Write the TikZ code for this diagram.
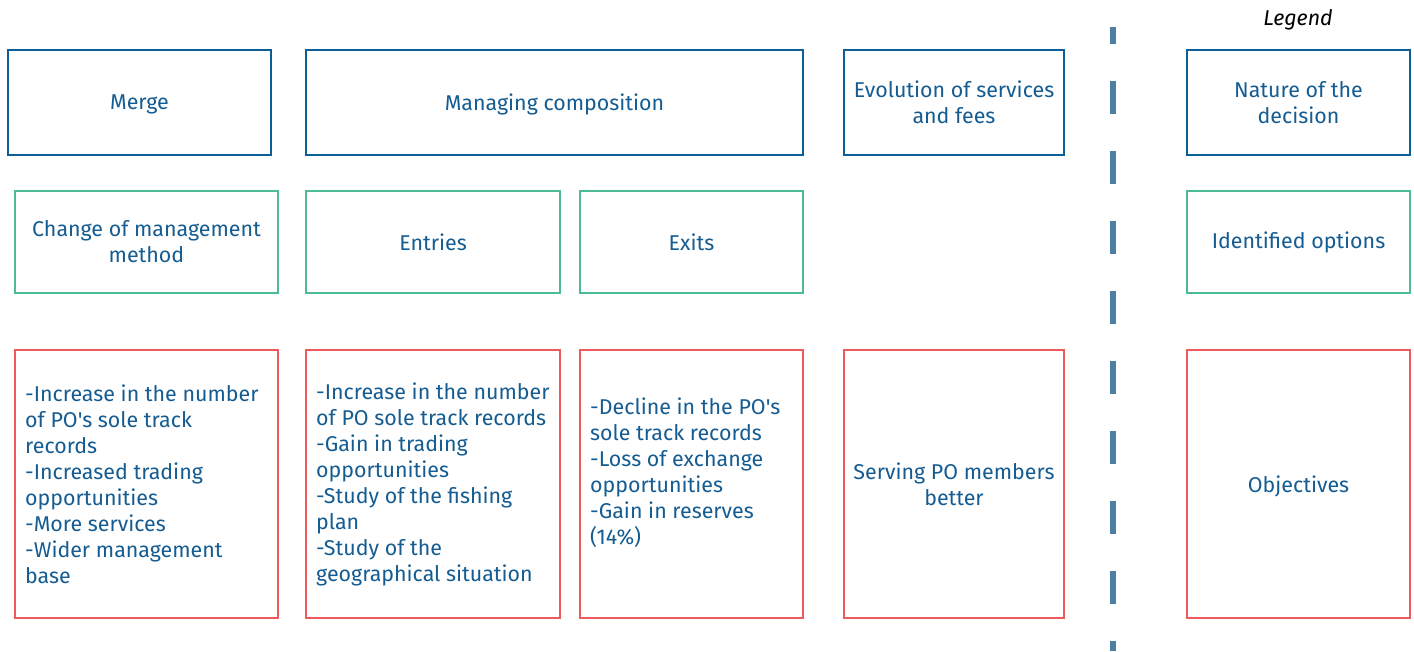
\documentclass[tikz,border=0pt]{standalone}
\usepackage{fontspec}
\setmainfont{Fira Sans}[Ligatures=TeXOff]
\definecolor{txtblue}{HTML}{145C91}
\definecolor{bordblue}{HTML}{0B5E96}
\definecolor{bordgreen}{HTML}{4CBB97}
\definecolor{bordred}{HTML}{F05A5A}
\definecolor{dashblue}{HTML}{4D7FA3}
\newcommand{\lowertxt}[1]{\raisebox{-2pt}[\height][\depth]{#1}}
\begin{document}
\begin{tikzpicture}[x=1pt,y=-1pt,
  box/.style={draw, line width=2pt, inner sep=0pt, fill=white,
    font=\fontsize{21.4}{26}\selectfont, text=txtblue, align=center},
  bluebox/.style={box, draw=bordblue, minimum height=105},
  greenbox/.style={box, draw=bordgreen, minimum height=102},
  redbox/.style={box, draw=bordred, minimum height=268},
  bodytext/.style={inner sep=0pt, anchor=west, align=left, text=txtblue,
    font=\fontsize{21.4}{26}\selectfont},
  dashline/.style={draw=dashblue, line width=6pt, dash pattern=on 33pt off 37pt, dash phase=16pt}
]
\useasboundingbox (0,0) rectangle (1414,651);

% row 1
\node[bluebox, minimum width=263] (merge) at (139.5,102.5) {\lowertxt{Merge}};
\node[bluebox, minimum width=497] (manage) at (554.5,102.5) {\lowertxt{Managing composition}};
\node[bluebox, minimum width=220] (evol) at (954,102.5) {Evolution of services\\and fees};
\node[bluebox, minimum width=223] (nature) at (1298.5,102.5) {Nature of the\\decision};

% row 2
\node[greenbox, minimum width=263] (change) at (146.5,242) {Change of management\\method};
\node[greenbox, minimum width=254] (entries) at (433,242) {Entries};
\node[greenbox, minimum width=223] (exits) at (691.5,242) {Exits};
\node[greenbox, minimum width=223] (options) at (1298.5,242) {Identified options};

% row 3
\node[redbox, minimum width=263] (r1) at (146.5,484) {};
\node[redbox, minimum width=254] (r2) at (433,484) {};
\node[redbox, minimum width=223] (r3) at (691.5,484) {};
\node[redbox, minimum width=220] (r4) at (954,484) {Serving PO members\\better};
\node[redbox, minimum width=223] (r5) at (1298.5,484) {\lowertxt{Objectives}};

\node[bodytext] (t1) at (25,484) {-Increase in the number\\of PO's sole track\\records\\-Increased trading\\opportunities\\-More services\\-Wider management\\base};
\node[bodytext] (t2) at (316,484) {-Increase in the number\\of PO sole track records\\-Gain in trading\\opportunities\\-Study of the fishing\\plan\\-Study of the\\geographical situation};
\node[bodytext] (t3) at (590,473) {-Decline in the PO's\\sole track records\\-Loss of exchange\\opportunities\\-Gain in reserves\\(14\%)};

% legend
\node[inner sep=0pt, font=\fontsize{21.4}{24}\itshape\selectfont] (legend) at (1298,19.5) {Legend};

% separator
\coordinate (sepTop) at (1113,27);
\coordinate (sepBot) at (1113,651);
\draw[dashline] (sepTop) -- (sepBot);
\end{tikzpicture}
\end{document}
